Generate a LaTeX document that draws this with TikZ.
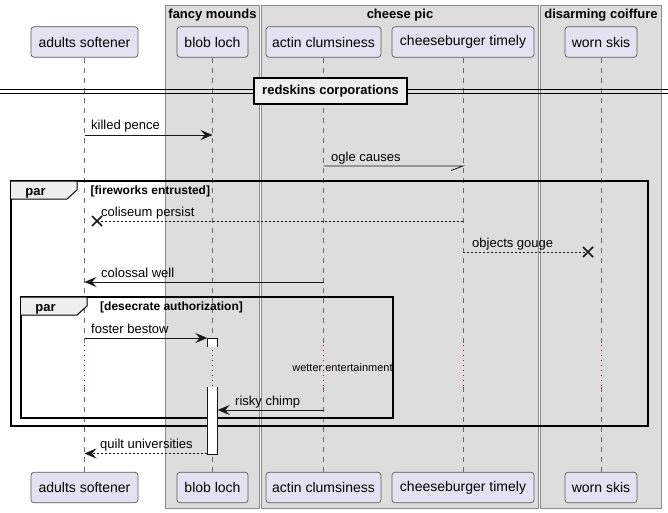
\documentclass[tikz,border=0pt]{standalone}
\usepackage{fontspec}
\setmainfont{Liberation Sans}
\usetikzlibrary{arrows.meta}
\definecolor{grpfill}{HTML}{DDDDDD}
\definecolor{grpline}{HTML}{8A8A8A}
\definecolor{partfill}{HTML}{E2E2F0}
\definecolor{partline}{HTML}{5A5A5A}
\definecolor{lifec}{HTML}{6A6A6A}
\definecolor{delayc}{HTML}{A80036}
\definecolor{tabfill}{HTML}{EEEEEE}
\definecolor{ink}{HTML}{181818}
\begin{document}
\begin{tikzpicture}[x=1pt,y=-1pt,
  grp/.style={draw=grpline, fill=grpfill, line width=0.7pt},
  grptitle/.style={anchor=base, inner sep=0, font=\bfseries\fontsize{13}{15}\selectfont},
  part/.style={draw=partline, fill=partfill, rounded corners=3pt, inner sep=0, line width=0.7pt, minimum height=30.5pt, font=\fontsize{14}{16}\selectfont},
  life/.style={draw=lifec, line width=0.7pt, dash pattern=on 5pt off 5pt},
  delayline/.style={draw=delayc, line width=1pt, dash pattern=on 1pt off 4pt},
  msg/.style={draw=ink, line width=0.8pt, -{Stealth[length=12pt,width=10pt,inset=4.5pt]}},
  ret/.style={draw=ink, line width=0.8pt, dash pattern=on 2pt off 2pt, -{Stealth[length=12pt,width=10pt,inset=4.5pt]}},
  plainmsg/.style={draw=ink, line width=0.8pt},
  plainret/.style={draw=ink, line width=0.8pt, dash pattern=on 2pt off 2pt},
  lbl/.style={anchor=base west, inner sep=0, font=\fontsize{13}{15}\selectfont},
  xmark/.style={draw=ink, line width=1.6pt},
  frame/.style={draw=black, line width=1.5pt},
  tab/.style={draw=black, fill=tabfill, line width=1pt},
  tabtxt/.style={anchor=base, inner sep=0, font=\bfseries\fontsize{13}{15}\selectfont},
  cond/.style={anchor=base west, inner sep=0, font=\bfseries\fontsize{12}{14}\selectfont},
  actbox/.style={draw=ink, fill=white, line width=0.8pt}
]
\useasboundingbox (0,0) rectangle (668,513);
\fill[white] (0,0) rectangle (668,513);

% group boxes
\draw[grp] (165.5,5.5) rectangle (259.5,508);
\draw[grp] (261.5,5.5) rectangle (538.5,508);
\draw[grp] (540.5,5.5) rectangle (661.5,508);
\node[grptitle] (g1) at (212.5,18.5) {fancy mounds};
\node[grptitle] (g2) at (400,18.5) {cheese pic};
\node[grptitle] (g3) at (601,18.5) {disarming coiffure};

% participants
\node[part, minimum width=107pt] (pA) at (84.5,42) {adults softener};
\node[part, minimum width=71pt] (pB) at (212.5,42) {blob loch};
\node[part, minimum width=115pt] (pC) at (323.5,42) {actin clumsiness};
\node[part, minimum width=142pt] (pD) at (463,42) {cheeseburger timely};
\node[part, minimum width=72pt] (pE) at (601,42) {worn skis};
\node[part, minimum width=107pt] (qA) at (84.5,487.5) {adults softener};
\node[part, minimum width=71pt] (qB) at (212.5,487.5) {blob loch};
\node[part, minimum width=115pt] (qC) at (323.5,487.5) {actin clumsiness};
\node[part, minimum width=142pt] (qD) at (463,487.5) {cheeseburger timely};
\node[part, minimum width=72pt] (qE) at (601,487.5) {worn skis};

% lifelines with delay
\foreach \n in {A,B,C,D,E}{
  \coordinate (d\n1) at (p\n.south |- 0,345);
  \coordinate (d\n2) at (p\n.south |- 0,387);
  \draw[life] (p\n.south) -- (d\n1);
  \draw[delayline] (d\n1) -- (d\n2);
  \draw[life] (d\n2) -- (q\n.north);
}
\node[anchor=base, inner sep=0, font=\fontsize{11}{13}\selectfont] (delaytxt) at (342.5,371.5) {wetter entertainment};

% separator
\coordinate (sepL) at (0,89.5);
\coordinate (sepR) at (668,89.5);
\coordinate (sepL2) at (0,93.5);
\coordinate (sepR2) at (668,93.5);
\draw[black, line width=0.9pt] (sepL) -- (sepR);
\draw[black, line width=0.9pt] (sepL2) -- (sepR2);
\node[draw=black, fill=tabfill, line width=1.8pt, minimum width=153pt, minimum height=26pt, inner sep=0, font=\bfseries\fontsize{13}{15}\selectfont] (sep) at (330.5,91) {redskins corporations};

% message 1
\coordinate (m1a) at (pA.south |- 0,135);
\coordinate (m1b) at (pB.south |- 0,135);
\draw[msg] (m1a) -- (m1b);
\node[lbl] (l1) at (91,130) {killed pence};

% message 2 (half arrow)
\coordinate (m2a) at (pC.south |- 0,166);
\coordinate (m2b) at (pD.south |- 0,166);
\coordinate (m2c) at (451,170.5);
\draw[plainmsg] (m2a) -- (m2b) -- (m2c);
\node[lbl] (l2) at (331,161) {ogle causes};

% outer par frame
\coordinate (f1tl) at (11,181);
\coordinate (f1br) at (648,426);
\draw[frame] (f1tl) rectangle (f1br);
\draw[tab] (11,181) -- (77,181) -- (77,190) -- (67,199) -- (11,199);
\node[tabtxt] (par1) at (35.5,195) {par};
\node[cond] (c1) at (90.5,194) {[fireworks entrusted]};

% message 3 (destroy)
\coordinate (m3a) at (pD.south |- 0,221);
\coordinate (m3b) at (97,221);
\draw[plainret] (m3a) -- (m3b);
\draw[xmark] (m3b) ++(-5,-5) -- ++(10,10) ++(-10,0) -- ++(10,-10);
\node[lbl] (l3) at (101,216) {coliseum persist};

% message 4 (destroy)
\coordinate (m4a) at (pD.south |- 0,252);
\coordinate (m4b) at (588,252);
\draw[plainret] (m4a) -- (m4b);
\draw[xmark] (m4b) ++(-5,-5) -- ++(10,10) ++(-10,0) -- ++(10,-10);
\node[lbl] (l4) at (472,247) {objects gouge};

% message 5
\coordinate (m5a) at (pC.south |- 0,282);
\coordinate (m5b) at (pA.south |- 0,282);
\draw[msg] (m5a) -- (m5b);
\node[lbl] (l5) at (101,277) {colossal well};

% inner par frame
\draw[frame] (21,297) rectangle (393,418);
\draw[tab] (21,297) -- (87,297) -- (87,306) -- (77,315) -- (21,315);
\node[tabtxt] (par2) at (45.5,311) {par};
\node[cond] (c2) at (100,310) {[desecrate authorization]};

% activation boxes
\path[fill=white] (207.3,338) rectangle (217.7,346.5);
\draw[draw=ink, line width=0.8pt] (207.3,346.5) -- (207.3,338) -- (217.7,338) -- (217.7,346.5);
\path[fill=white] (207.3,387) rectangle (217.7,454);
\draw[draw=ink, line width=0.8pt] (207.3,387) -- (207.3,454) -- (217.7,454) -- (217.7,387);
\coordinate (act1L) at (207.3,338);
\coordinate (act2R) at (217.7,410);
\coordinate (act2L) at (207.3,453.5);

% message 6
\coordinate (m6a) at (pA.south |- 0,338);
\draw[msg] (m6a) -- (act1L);
\node[lbl] (l6) at (91,333) {foster bestow};

% message 7
\coordinate (m7a) at (pC.south |- 0,410);
\draw[msg] (m7a) -- (act2R);
\node[lbl] (l7) at (235,405) {risky chimp};

% message 8
\coordinate (m8b) at (pA.south |- 0,453.5);
\draw[ret] (act2L) -- (m8b);
\node[lbl] (l8) at (100,448.5) {quilt universities};
\end{tikzpicture}
\end{document}
